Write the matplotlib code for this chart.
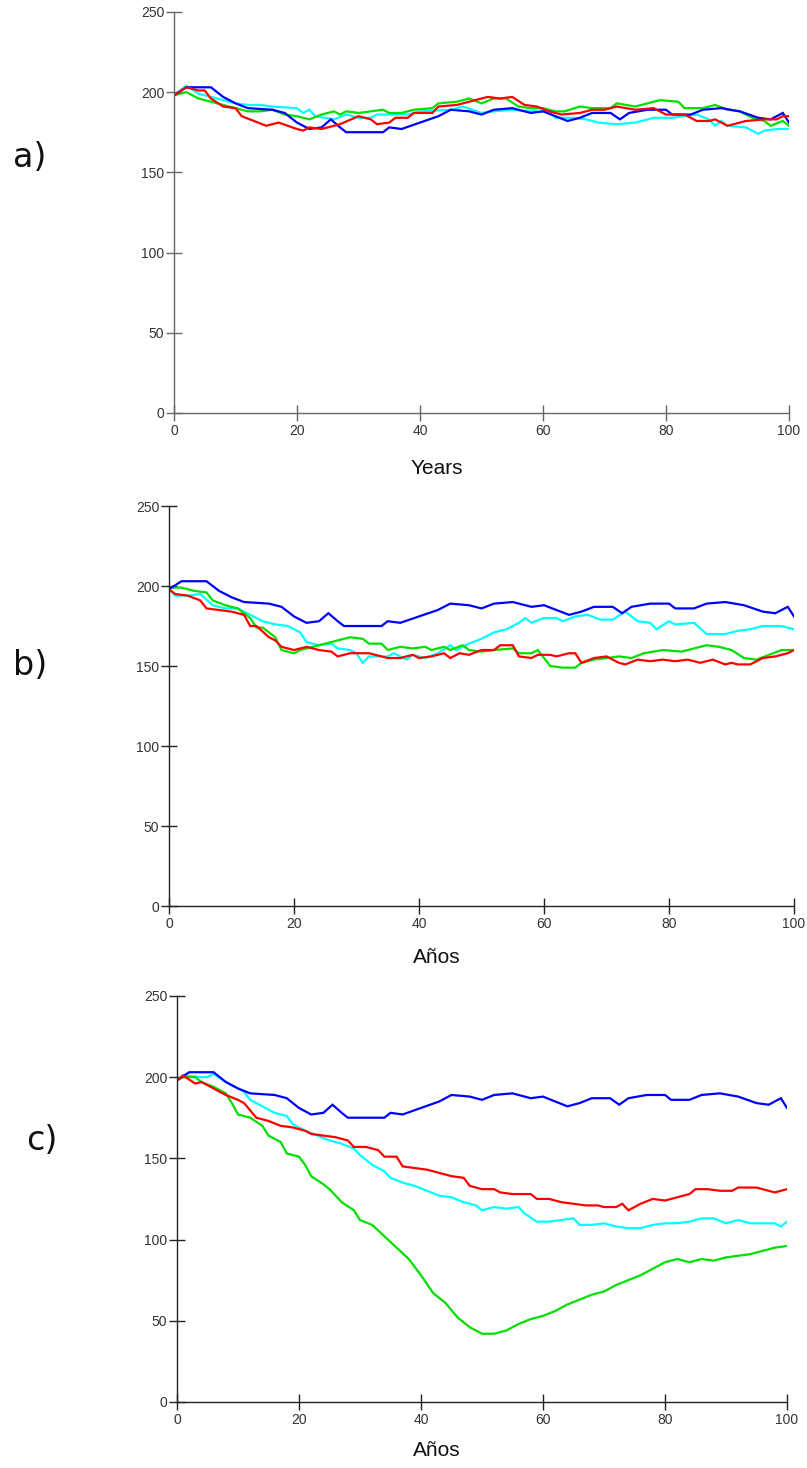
import numpy as np
import matplotlib
matplotlib.use("Agg")
import matplotlib.pyplot as plt

# x ticks / y ticks
x_ticks = [0, 20, 40, 60, 80, 100]
y_ticks = [0, 50, 100, 150, 200, 250]

# blue run is the same in all three panels
blue = [(0, 198), (2, 203), (6, 203), (8, 197), (10, 193), (12, 190), (16, 189), (18, 187),
        (20, 181), (22, 177), (24, 178), (25.5, 183), (27, 178), (28, 175), (30, 175), (34, 175),
        (35, 178), (37, 177), (40, 181), (43, 185), (45, 189), (48, 188), (50, 186), (52, 189),
        (55, 190), (58, 187), (60, 188), (62, 185), (64, 182), (66, 184), (68, 187), (71, 187),
        (72.5, 183), (74, 187), (77, 189), (80, 189), (81, 186), (84, 186), (86, 189), (89, 190),
        (92, 188), (95, 184), (97, 183), (99, 187), (100, 181)]

# panel a
a_cyan = [(0, 198), (2, 204), (4, 199), (6, 197), (8, 195), (10, 193), (12, 192), (14, 192),
          (16, 191), (20, 190), (21, 187), (22, 189), (23, 185), (26, 183), (28, 186), (30, 184),
          (32, 184), (33, 186), (38, 186), (40, 188), (45, 189), (47, 191), (50, 187), (52, 188),
          (55, 189), (58, 188), (61, 188), (62, 184), (65, 184), (67, 183), (69, 181), (72, 180),
          (75, 181), (78, 184), (81, 184), (85, 186), (87, 183), (88, 179), (89, 182), (90, 179),
          (93, 178), (95, 174), (96, 176), (98, 177), (100, 177)]
a_green = [(0, 198), (2, 200), (4, 196), (6, 194), (8, 192), (10, 190), (12, 188), (14, 188),
           (16, 189), (18, 186), (20, 185), (22, 183), (24, 186), (26, 188), (27, 186), (28, 188),
           (30, 187), (32, 188), (34, 189), (35, 187), (37, 187), (39, 189), (42, 190), (43, 193),
           (46, 194), (48, 196), (50, 193), (52, 196), (54, 196), (56, 191), (58, 190), (60, 190),
           (62, 188), (63.5, 188), (66, 191), (68, 190), (71, 190), (72, 193), (75, 191), (77, 193),
           (79, 195), (82, 194), (83, 190), (86, 190), (88, 192), (90, 189), (92, 188), (94, 184),
           (96, 182), (97, 179), (99, 182), (100, 179)]
a_red = [(0, 198), (2, 203), (4, 201), (5, 201), (6, 196), (8, 191), (10, 190), (11, 185),
         (13, 182), (15, 179), (17, 181), (20, 177), (21, 176), (22, 178), (24, 177), (27, 180),
         (30, 185), (32, 183), (33, 180), (35, 181), (36, 184), (38, 184), (39, 187), (42, 187),
         (43, 191), (46, 192), (47, 193), (49, 195), (51, 197), (53, 196), (55, 197), (57, 192),
         (59, 191), (61, 188), (63, 186), (66, 187), (68, 189), (70, 189), (72, 191), (75, 189),
         (78, 190), (80, 186), (83, 186), (85, 182), (87, 182), (88, 183), (90, 179), (92, 181),
         (93, 182), (96, 183), (98, 183), (99, 185), (100, 185)]

# panel b
b_cyan = [(0, 198), (1, 194), (3, 194), (5, 195), (7, 188), (9, 186), (11, 186), (13, 182),
          (15, 178), (17, 176), (19, 175), (21, 171), (22, 165), (24, 163), (26, 164), (27, 161),
          (29, 160), (30, 158), (31, 152), (32, 156), (35, 156), (36, 158), (38, 154), (39, 157),
          (41, 155), (43, 158), (45, 163), (46, 160), (48, 164), (50, 167), (52, 171), (54, 173),
          (56, 177), (57, 180), (58, 177), (60, 180), (62, 180), (63, 178), (65, 181), (67, 182),
          (69, 179), (71, 179), (73, 184), (75, 178), (77, 177), (78, 173), (80, 178), (81, 176),
          (84, 177), (86, 170), (89, 170), (91, 172), (93, 173), (95, 175), (98, 175), (100, 173)]
b_green = [(0, 199), (2, 199), (4, 197), (6, 196), (7, 191), (9, 188), (11, 186), (13, 180),
           (14, 174), (15, 174), (17, 168), (18, 160), (20, 158), (21, 160), (23, 162), (25, 164),
           (27, 166), (29, 168), (31, 167), (32, 164), (34, 164), (35, 160), (37, 162), (39, 161),
           (41, 162), (42, 160), (44, 162), (45, 160), (47, 163), (48, 160), (50, 159), (52, 160),
           (55, 161), (56, 158), (58, 158), (59, 160), (61, 150), (63, 149), (65, 149), (66, 152),
           (68, 154), (70, 155), (72, 156), (74, 155), (76, 158), (79, 160), (82, 159), (84, 161),
           (86, 163), (88, 162), (90, 160), (92, 155), (94, 154), (96, 157), (98, 160), (100, 160)]
b_red = [(0, 198), (1, 195), (3, 194), (5, 191), (6, 186), (8, 185), (10, 184), (12, 182),
         (13, 175), (14, 175), (16, 168), (17, 166), (18, 162), (20, 160), (22, 162), (24, 160),
         (26, 159), (27, 156), (29, 158), (32, 158), (35, 155), (37, 155), (39, 157), (40, 155),
         (42, 156), (44, 158), (45, 155), (46.5, 158), (48, 157), (50, 160), (52, 160), (53, 163),
         (55, 163), (56, 156), (58, 155), (59, 157), (61, 157), (62, 156), (64, 158), (65, 158),
         (66, 152), (68, 155), (70, 156), (72, 152), (73, 151), (75, 154), (77, 153), (79, 154),
         (81, 153), (83, 154), (85, 152), (87, 154), (89, 151), (90, 152), (91, 151), (93, 151),
         (95, 155), (97, 156), (99, 158), (100, 160)]

# panel c
c_cyan = [(0, 198), (1, 201), (4, 200), (5, 200), (6, 202), (8, 197), (10, 193), (11, 191),
          (12, 186), (14, 182), (16, 178), (18, 176), (19, 171), (21, 167), (23, 164), (25, 161),
          (27, 159), (29, 156), (30, 152), (32, 146), (34, 142), (35, 138), (37, 135), (39, 133),
          (41, 130), (43, 127), (45, 126), (47, 123), (49, 121), (50, 118), (52, 120), (54, 119),
          (56, 120), (57, 116), (59, 111), (61, 111), (63, 112), (65, 113), (66, 109), (68, 109),
          (70, 110), (72, 108), (74, 107), (76, 107), (78, 109), (80, 110), (82, 110), (84, 111),
          (86, 113), (88, 113), (90, 110), (92, 112), (94, 110), (96, 110), (98, 110), (99, 108),
          (100, 111)]
c_green = [(0, 198), (1, 200), (3, 200), (4, 197), (6, 194), (8, 190), (9, 184), (10, 177),
           (12, 175), (14, 170), (15, 164), (17, 160), (18, 153), (20, 151), (21, 146), (22, 139),
           (24, 134), (25, 131), (27, 123), (29, 118), (30, 112), (32, 109), (34, 102), (36, 95),
           (38, 88), (40, 78), (42, 67), (44, 61), (46, 52), (48, 46), (50, 42), (52, 42),
           (54, 44), (56, 48), (58, 51), (60, 53), (62, 56), (64, 60), (66, 63), (68, 66),
           (70, 68), (72, 72), (74, 75), (76, 78), (78, 82), (80, 86), (82, 88), (84, 86),
           (86, 88), (88, 87), (90, 89), (92, 90), (94, 91), (96, 93), (98, 95), (100, 96)]
c_red = [(0, 198), (1, 201), (3, 196), (4, 197), (6, 193), (8, 189), (10, 186), (11, 184),
         (13, 175), (15, 173), (17, 170), (19, 169), (21, 167), (22, 165), (24, 164), (26, 163),
         (28, 161), (29, 157), (31, 157), (33, 155), (34, 151), (36, 151), (37, 145), (39, 144),
         (41, 143), (43, 141), (45, 139), (47, 138), (48, 133), (50, 131), (52, 131), (53, 129),
         (55, 128), (58, 128), (59, 125), (61, 125), (63, 123), (65, 122), (67, 121), (69, 121),
         (70, 120), (72, 120), (73, 122), (74, 118), (76, 122), (78, 125), (80, 124), (82, 126),
         (84, 128), (85, 131), (87, 131), (89, 130), (91, 130), (92, 132), (95, 132), (97, 130),
         (98, 129), (100, 131)]

panels = [
    ("a)", "Years", [a_cyan, a_green, blue, a_red], "#666666"),
    ("b)", "Años", [b_cyan, b_green, blue, b_red], "#222222"),
    ("c)", "Años", [c_cyan, c_green, blue, c_red], "#222222"),
]
colors = ["#00ffff", "#00e000", "#0000ff", "#ff0000"]

# axes boxes in figure fractions (left, bottom, width, height)
boxes = [(0.2156, 0.7187, 0.7621, 0.2732),
         (0.2094, 0.3828, 0.7745, 0.2725),
         (0.2193, 0.0450, 0.7559, 0.2766)]
tag_pos = [(0.037, 0.893), (0.037, 0.547), (0.052, 0.223)]
xlabel_y = [0.681, 0.348, 0.012]

fig = plt.figure(figsize=(8.07, 14.68), dpi=100)
for (tag, xlab, series, spc), box, tp, xy in zip(panels, boxes, tag_pos, xlabel_y):
    ax = fig.add_axes(box)
    for s, c in zip(series, colors):
        xs, ys = np.array(s).T
        ax.plot(xs, ys, color=c, lw=1.6, solid_joinstyle="miter")
    ax.set_xlim(0, 100)
    ax.set_ylim(0, 250)
    ax.set_xticks(x_ticks)
    ax.set_yticks(y_ticks)
    for sp in ["top", "right"]:
        ax.spines[sp].set_visible(False)
    for sp in ["left", "bottom"]:
        ax.spines[sp].set_color(spc)
        ax.spines[sp].set_linewidth(1.0)
    ax.tick_params(axis="both", direction="inout", length=12, width=1, color=spc,
                   labelsize=10, labelcolor="#333333")
    ax.tick_params(axis="y", pad=1)
    ax.tick_params(axis="x", pad=2)
    for lbl in ax.get_xticklabels() + ax.get_yticklabels():
        lbl.set_fontfamily("Liberation Sans")
    fig.text(437 / 807, xy, xlab, ha="center", va="center", fontsize=15,
             family="Liberation Sans", color="#111111")
    fig.text(tp[0], tp[1], tag, ha="center", va="center", fontsize=24,
             family="DejaVu Sans", color="#111111")

fig.savefig("out.png", dpi=100)
